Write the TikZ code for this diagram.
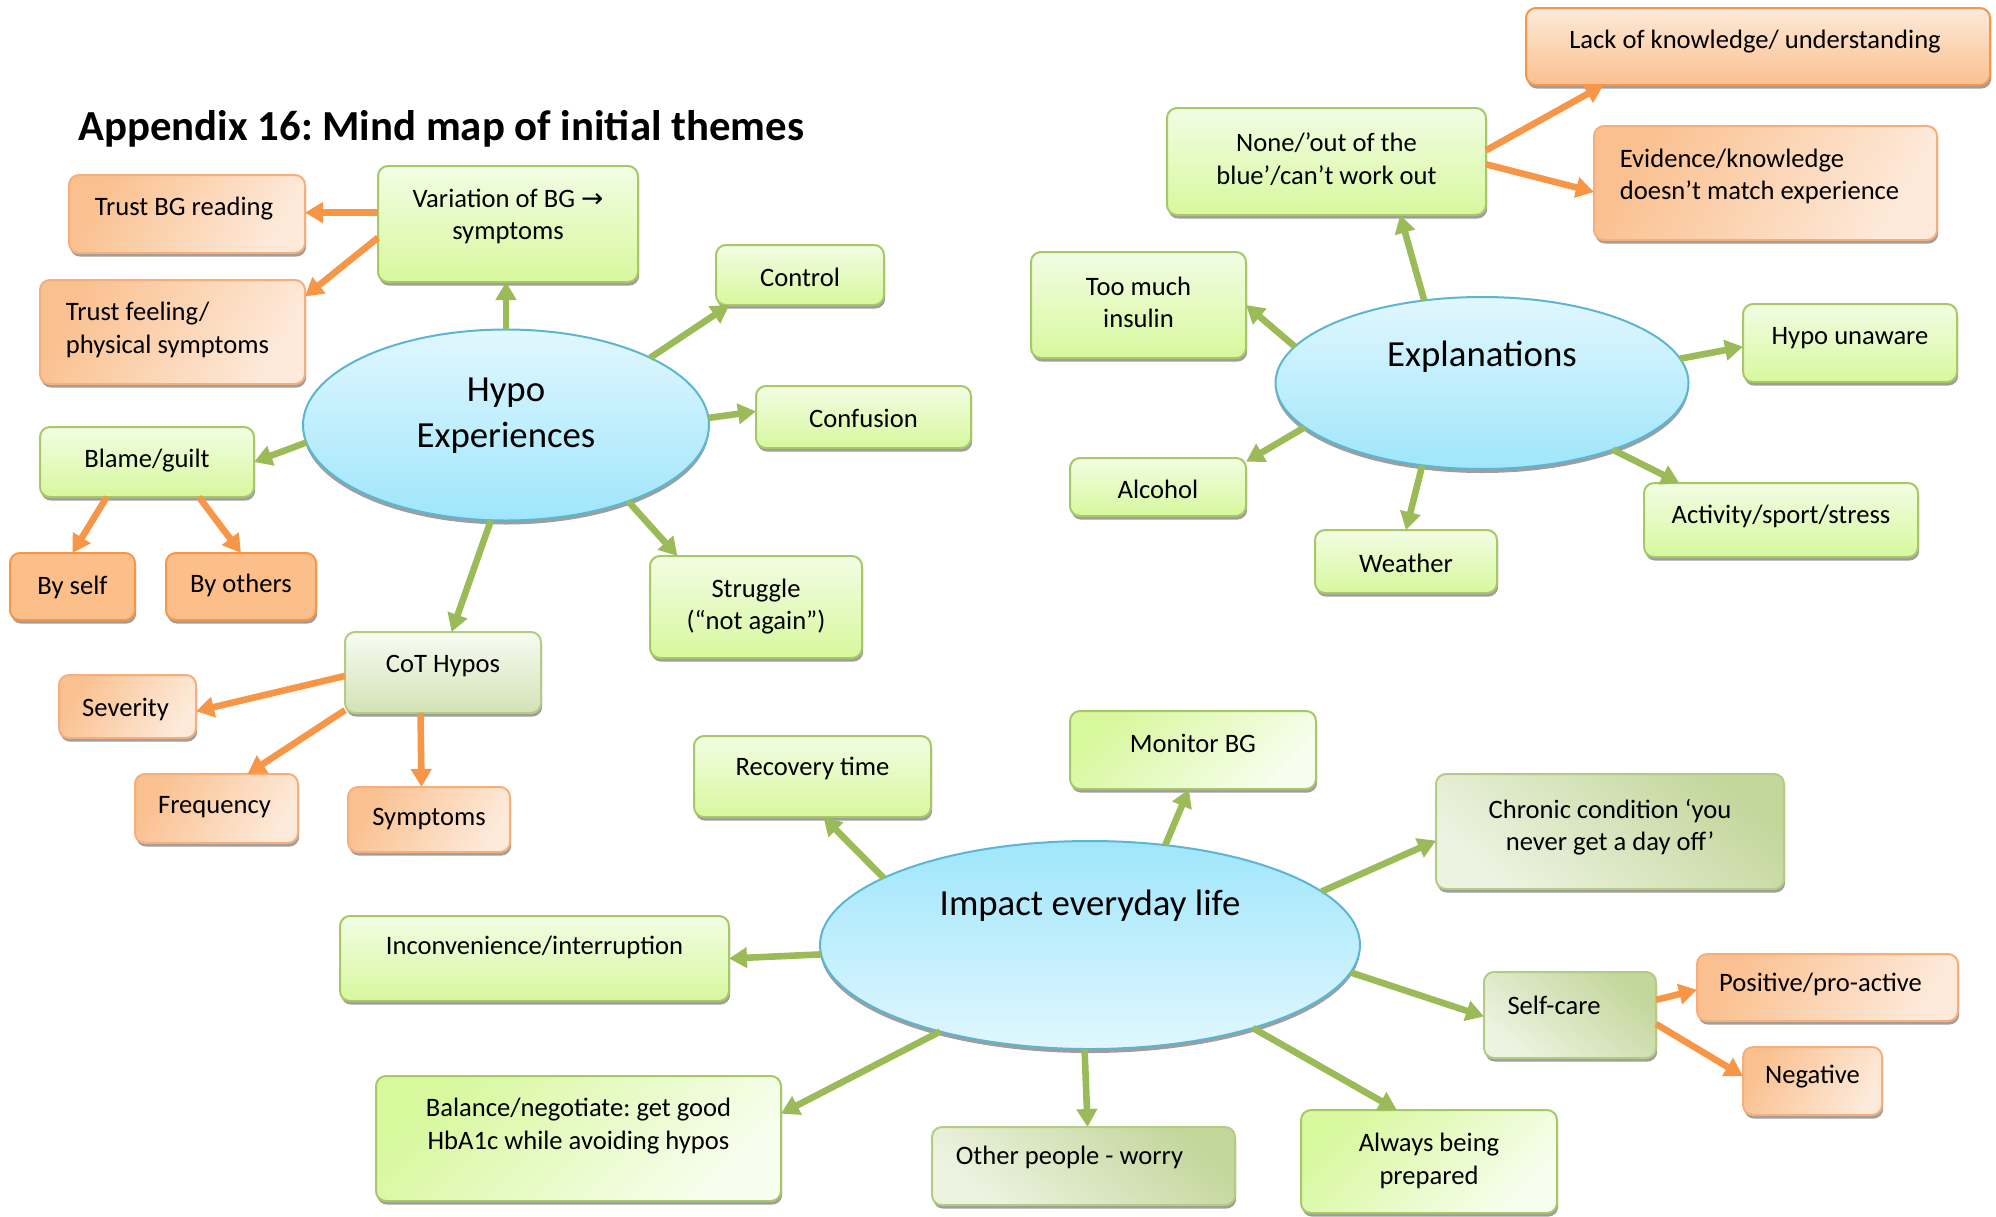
\documentclass[tikz,border=0pt]{standalone}
\usepackage{fontspec}
\setmainfont{Carlito}
\newfontfamily\symfont{DejaVu Sans}
\usetikzlibrary{shapes.geometric,arrows.meta,shadows}
\frenchspacing
\definecolor{gtop}{HTML}{F2FDE4}
\definecolor{gbot}{HTML}{D7F89D}
\definecolor{gline}{HTML}{A8C865}
\definecolor{garr}{HTML}{9BBB59}
\definecolor{oarr}{HTML}{F79646}
\definecolor{odark}{HTML}{FAC08F}
\definecolor{olight}{HTML}{FDEADA}
\definecolor{oline}{HTML}{F8AE78}
\definecolor{osolid}{HTML}{FDBF8A}
\definecolor{olv}{HTML}{C3D69B}
\definecolor{olvlight}{HTML}{EDF3E1}
\definecolor{olline}{HTML}{B3CC82}
\definecolor{cottop}{HTML}{F8FBF2}
\definecolor{cotbot}{HTML}{D3E2B6}
\definecolor{etop}{HTML}{E1F7FE}
\definecolor{ebot}{HTML}{9FE6FB}
\definecolor{eline}{HTML}{5BB5D3}
\newcommand\bodyfont{\fontsize{13.3pt}{16.3pt}\selectfont}
\newcommand\ellfont{\fontsize{18.4pt}{23pt}\selectfont}
\newcommand\titlefont{\bfseries\fontsize{21.4pt}{25pt}\selectfont}
\newcommand\mmnode[9]{%
  \node[#1, minimum width=#5*0.5pt, minimum height=#6*0.5pt,
    label={[txt, name=#2-t, xshift=#7*0.5pt, yshift=(#8-2.5)*0.5pt]center:{#9}}] (#2) at (#3,#4) {};}
\tikzset{
  box/.style={rectangle, rounded corners=5pt, line width=1pt, inner sep=0pt, outer sep=0pt,
    general shadow={fill=black!38, shadow xshift=0.6pt, shadow yshift=-1.8pt}},
  gbox/.style={box, draw=gline, top color=gtop, bottom color=gbot},
  gdiag/.style={box, draw=gline, top color=gbot, bottom color=gtop!60!white, shading angle=45},
  olbox/.style={box, draw=olline, top color=olv, bottom color=olvlight, shading angle=-40},
  cotbox/.style={box, draw=olline, top color=cottop, bottom color=cotbot},
  obox/.style={box, draw=oline, top color=odark, bottom color=olight, shading angle=60},
  lackbox/.style={box, draw=oarr, top color=olight, bottom color=odark},
  sbox/.style={box, draw=oarr, fill=osolid},
  ell/.style={ellipse, inner sep=0pt, outer sep=0pt, line width=1pt, draw=eline,
    general shadow={fill=black!38, shadow yshift=-2pt}},
  ellA/.style={ell, top color=etop, bottom color=ebot},
  ellB/.style={ell, top color=ebot, bottom color=etop},
  txt/.style={font=\bodyfont, align=center, inner sep=0pt},
  etxt/.style={font=\ellfont, align=center, inner sep=0pt},
  ga/.style={draw=garr, line width=3.3pt, -{Triangle[length=9pt,width=10pt]}},
  oa/.style={draw=oarr, line width=3.3pt, -{Triangle[length=9pt,width=10pt]}}
}
\begin{document}
\begin{tikzpicture}[x=0.5pt,y=-0.5pt]
\useasboundingbox (0,0) rectangle (1996,1216);
\node[anchor=base west, inner sep=0pt, font=\titlefont] (title) at (78,140) {Appendix 16: Mind map of initial themes};

% ellipses
\node[ellA, minimum width=406*0.5pt, minimum height=191*0.5pt,
  label={[etxt, name=hypo-t, yshift=4.8pt]center:{Hypo\\Experiences}}] (hypo) at (506,425) {};
\node[ellA, minimum width=413*0.5pt, minimum height=172*0.5pt,
  label={[etxt, name=expl-t, yshift=13pt]center:{Explanations}}] (expl) at (1482,383) {};
\node[ellB, minimum width=540*0.5pt, minimum height=208*0.5pt,
  label={[etxt, name=impact-t, yshift=19.5pt]center:{Impact everyday life}}] (impact) at (1090,945) {};

% Hypo experiences branch
\mmnode{obox}{trustbg}{187}{214}{236}{78}{-3}{8}{Trust BG reading}
\mmnode{gbox}{var}{508}{224}{260}{116}{0}{10}{Variation of BG {\symfont →}\\symptoms}
\node[obox, minimum width=265*0.5pt, minimum height=104*0.5pt,
  label={[txt, name=trustfeel-t, align=left, xshift=-2.5pt, yshift=1pt]center:{Trust feeling/\\physical symptoms}}] (trustfeel) at (172.5,332) {};
\mmnode{gbox}{ctrl}{800}{275}{168}{60}{0}{0}{Control}
\mmnode{gbox}{conf}{863.5}{417}{215}{62}{0}{1}{Confusion}
\mmnode{gbox}{blame}{147}{462}{214}{70}{0}{4}{Blame/guilt}
\mmnode{sbox}{byself}{72.5}{586.5}{125}{67}{0}{2}{By self}
\mmnode{sbox}{byothers}{241}{586.5}{150}{67}{0}{4}{By others}
\mmnode{gbox}{struggle}{756}{607}{212}{102}{0}{3}{Struggle\\(“not again”)}
\mmnode{cotbox}{cot}{443}{672.5}{196}{81}{0}{9}{CoT Hypos}
\mmnode{obox}{severity}{127.5}{706.5}{137}{63}{-2}{0}{Severity}
\mmnode{obox}{freq}{216.5}{808.5}{163}{69}{-2}{4}{Frequency}
\mmnode{obox}{sympt}{429}{819.5}{162}{65}{0}{3}{Symptoms}

% Explanations branch
\mmnode{lackbox}{lack}{1758}{46.5}{464}{77}{-3}{7}{Lack of knowledge/ understanding}
\node[obox, minimum width=343*0.5pt, minimum height=114*0.5pt,
  label={[txt, name=evid-t, align=left, xshift=-3pt, yshift=3.3pt]center:{Evidence/knowledge\\doesn’t match experience}}] (evid) at (1765.5,183) {};
\mmnode{gbox}{none}{1326.5}{161.5}{319}{107}{0}{5}{None/’out of the\\blue’/can’t work out}
\mmnode{gbox}{toomuch}{1138.5}{305}{215}{106}{0}{5}{Too much\\insulin}
\mmnode{gbox}{hypoun}{1850}{343}{214}{78}{0}{7}{Hypo unaware}
\mmnode{gbox}{alcohol}{1158}{487}{176}{58}{0}{0}{Alcohol}
\mmnode{gbox}{weather}{1406}{561.5}{182}{63}{0}{1}{Weather}
\mmnode{gbox}{activity}{1781}{520}{274}{74}{0}{6}{Activity/sport/stress}

% Impact branch
\mmnode{gbox}{recovery}{812.5}{776.5}{237}{81}{0}{11}{Recovery time}
\mmnode{gbox}{inconv}{534.5}{958.5}{389}{85}{0}{14}{Inconvenience/interruption}
\mmnode{gdiag}{balance}{578.5}{1138.5}{405}{125}{0}{15}{Balance/negotiate: get good\\HbA1c while avoiding hypos}
\mmnode{gdiag}{monitor}{1193}{750}{246}{78}{0}{9}{Monitor BG}
\mmnode{olbox}{chronic}{1610}{831.5}{348}{115}{0}{7}{Chronic condition ‘you\\never get a day off’}
\mmnode{olbox}{selfcare}{1570}{1015}{172}{86}{-16}{12}{Self-care}
\mmnode{obox}{positive}{1827.5}{987.5}{261}{67}{-7}{6}{Positive/pro-active}
\mmnode{obox}{negative}{1812.5}{1081}{139}{68}{0}{7}{Negative}
\mmnode{olbox}{other}{1083.5}{1166}{303}{78}{-14}{11}{Other people - worry}
\mmnode{gdiag}{always}{1429}{1161.5}{256}{103}{0}{3}{Always being\\prepared}

% connectors
\draw[ga] (hypo.north) -- (hypo.north |- var.south);
\draw[ga] (hypo.25) -- (ctrl.203);
\draw[ga] (hypo.2) -- (conf.177);
\draw[ga] (hypo.185) -- (blame.east);
\draw[ga] (hypo.261) -- (cot.78);
\draw[ga] (hypo.328) -- (struggle.147);
\draw[oa] (var.175) -- (var.175 -| trustbg.east);
\draw[oa] (var.186) -- (trustfeel.15);
\draw[oa] (blame.221) -- (byself.north);
\draw[oa] (blame.326) -- (byothers.north);
\draw[oa] (cot.182) -- (severity.356);
\draw[oa] (cot.201) -- (freq.48);
\draw[oa] (cot.241) -- (sympt.103);
\draw[ga] (expl.125) -- (none.324);
\draw[ga] (expl.169) -- (toomuch.east);
\draw[ga] (expl.7) -- (hypoun.182);
\draw[ga] (expl.194) -- (alcohol.16);
\draw[ga] (expl.234) -- (weather.north);
\draw[ga] (expl.333) -- (activity.160);
\draw[oa] (none.4) -- (lack.194);
\draw[oa] (none.359) -- (evid.183);
\draw[ga] (impact.162) -- (recovery.285);
\draw[ga] (impact.53) -- (monitor.264);
\draw[ga] (impact.13) -- (chronic.183);
\draw[ga] (impact.182) -- (inconv.east);
\draw[ga] (impact.354) -- (selfcare.181);
\draw[ga] (impact.210) -- (balance.7);
\draw[ga] (impact.267) -- (other.84);
\draw[ga] (impact.333) -- (always.122);
\draw[oa] (selfcare.10) -- (positive.181);
\draw[oa] (selfcare.354) -- (negative.176);
\end{tikzpicture}
\end{document}
